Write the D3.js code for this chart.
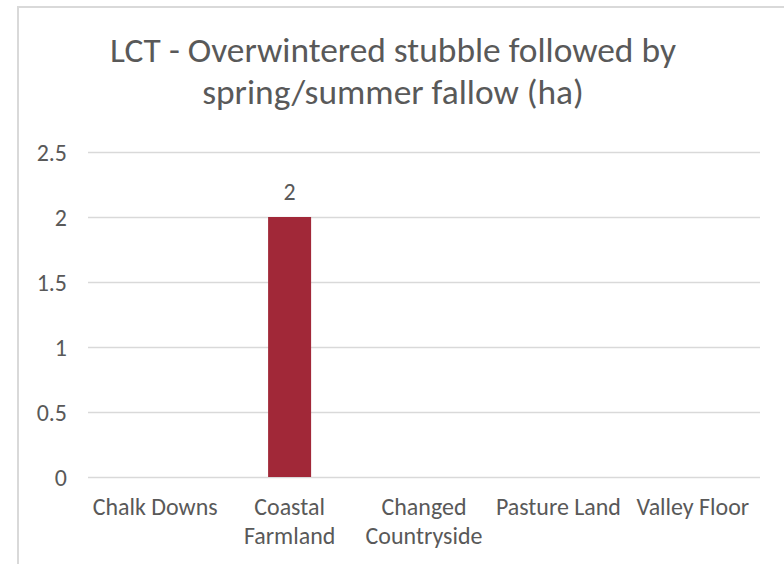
<!DOCTYPE html>
<html>
<head>
<meta charset="utf-8">
<script src="https://cdn.jsdelivr.net/npm/d3@7"></script>
<style>
  body { margin: 0; background: #fff; }
  text { font-family: Carlito, Calibri, Lato, sans-serif; fill: #595959; }
</style>
</head>
<body>
<div id="chart"></div>
<script>
// data
var categories = ["Chalk Downs", "Coastal Farmland", "Changed Countryside", "Pasture Land", "Valley Floor"];
var values = [0, 2, 0, 0, 0];
var yTicks = [0, 0.5, 1, 1.5, 2, 2.5];
var titleLines = ["LCT - Overwintered stubble followed by", "spring/summer fallow (ha)"];

var svgWidth = 784;
var svgHeight = 564;

// plot area
var plot = { left: 88, right: 760, top: 152, bottom: 477 };

var svg = d3.select("#chart").append("svg")
    .attr("width", svgWidth)
    .attr("height", svgHeight);

// chart border (runs off right/bottom in the screenshot)
svg.append("rect")
    .attr("x", 18)
    .attr("y", 7)
    .attr("width", 800)
    .attr("height", 600)
    .attr("fill", "#fff")
    .attr("stroke", "#d9d9d9")
    .attr("stroke-width", 2);

// scale a font so a sample string has the wanted width
function fitSize(sample, baseSize, targetWidth) {
    var t = svg.append("text").attr("font-size", baseSize).text(sample);
    var w = t.node().getComputedTextLength();
    t.remove();
    return baseSize * targetWidth / w;
}

var titleSize = fitSize(titleLines[0], 35, 566);
var labelSize = fitSize("Chalk Downs", 24, 125);

// scales
var xScale = d3.scaleBand()
    .domain(categories)
    .range([plot.left, plot.right])
    .paddingInner(0.68)
    .paddingOuter(0.34);

var yScale = d3.scaleLinear()
    .domain([0, 2.5])
    .range([plot.bottom, plot.top]);

// gridlines
svg.append("g").selectAll("line")
    .data(yTicks)
    .enter()
    .append("line")
    .attr("x1", plot.left)
    .attr("x2", plot.right)
    .attr("y1", d => Math.round(yScale(d)) + 0.5)
    .attr("y2", d => Math.round(yScale(d)) + 0.5)
    .attr("stroke", "#d9d9d9")
    .attr("stroke-width", 1.3);

// y axis labels
var yAxis = d3.axisLeft(yScale)
    .tickValues(yTicks)
    .tickSize(0)
    .tickPadding(21)
    .tickFormat(d3.format("~g"));

var yAxisG = svg.append("g")
    .attr("transform", `translate(${plot.left}, 0)`)
    .call(yAxis);
yAxisG.select(".domain").remove();
yAxisG.selectAll("text")
    .attr("font-size", labelSize)
    .attr("font-family", null)
    .attr("fill", "#595959")
    .attr("dy", "0.34em");
yAxisG.attr("font-family", null);

// bars
svg.append("g").selectAll("rect")
    .data(values)
    .enter()
    .append("rect")
    .attr("x", (d, i) => xScale(categories[i]))
    .attr("width", xScale.bandwidth())
    .attr("y", d => yScale(d))
    .attr("height", d => yScale(0) - yScale(d))
    .attr("fill", "#a12838");

// data label
svg.append("g").selectAll("text")
    .data(values.map((v, i) => ({ v: v, c: categories[i] })).filter(d => d.v > 0))
    .enter()
    .append("text")
    .attr("x", d => xScale(d.c) + xScale.bandwidth() / 2)
    .attr("y", d => yScale(d.v) - 17)
    .attr("text-anchor", "middle")
    .attr("font-size", labelSize)
    .text(d => d.v);

// category labels, wrapped to the band step
var step = xScale.step();
var catG = svg.append("g");
categories.forEach(function (c) {
    var cx = xScale(c) + xScale.bandwidth() / 2;
    var t = catG.append("text")
        .attr("text-anchor", "middle")
        .attr("font-size", labelSize);
    var words = c.split(" ");
    var lines = [];
    var line = [];
    var probe = t.append("tspan");
    words.forEach(function (w) {
        line.push(w);
        probe.text(line.join(" "));
        if (probe.node().getComputedTextLength() > step && line.length > 1) {
            line.pop();
            lines.push(line.join(" "));
            line = [w];
        }
    });
    lines.push(line.join(" "));
    probe.remove();
    lines.forEach(function (l, k) {
        t.append("tspan")
            .attr("x", cx)
            .attr("y", 515 + k * 29)
            .text(l);
    });
});

// title
svg.append("g").selectAll("text")
    .data(titleLines)
    .enter()
    .append("text")
    .attr("x", 393)
    .attr("y", (d, i) => 62 + i * 42)
    .attr("text-anchor", "middle")
    .attr("font-size", titleSize)
    .text(d => d);
</script>
</body>
</html>
